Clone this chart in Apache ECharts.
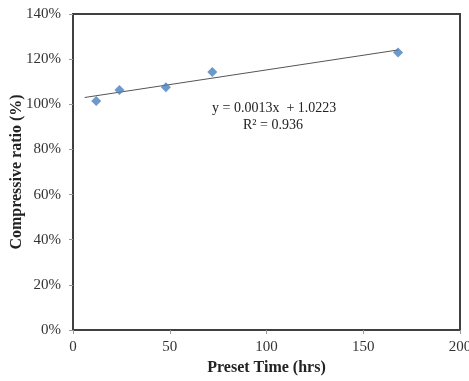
<!DOCTYPE html>
<html><head><meta charset="utf-8">
<script src="https://cdn.jsdelivr.net/npm/echarts@6/dist/echarts.min.js"></script>
<style>html,body{margin:0;padding:0;background:#fff}#c{width:469px;height:381px}</style>
</head><body><div id="c"></div>
<script>
const presetTime = [12, 24, 48, 72, 168];
const compressiveRatio = [1.015, 1.063, 1.075, 1.143, 1.229];
const trendSlope = 0.0013;
const trendIntercept = 1.0223;
const trendRange = [6, 168];
const rSquared = 0.936;
const xTicks = [0, 50, 100, 150, 200];
const yTicks = [0, 0.2, 0.4, 0.6, 0.8, 1.0, 1.2, 1.4];

const trendData = trendRange.map(x => [x, trendSlope * x + trendIntercept]);
const font = 'Liberation Serif';
const chart = echarts.init(document.getElementById('c'));
chart.setOption({
  animation: false,
  grid: {left: 73, right: 9, top: 14, bottom: 51, show: true, borderColor: '#404040', borderWidth: 2,
         containLabel: false, outerBoundsMode: 'none'},
  xAxis: {
    type: 'value', min: xTicks[0], max: xTicks[xTicks.length-1], interval: 50,
    name: 'Preset Time (hrs)', nameLocation: 'middle', nameGap: 30, nameMoveOverlap: false,
    nameTextStyle: {fontFamily: font, fontWeight: 'bold', fontSize: 16, color: '#222'},
    axisLine: {show: true, lineStyle: {color: '#404040', width: 2}},
    axisTick: {show: true, length: 4, lineStyle: {color: '#999'}},
    axisLabel: {fontFamily: font, fontSize: 15, color: '#333', margin: 10},
    splitLine: {show: false}
  },
  yAxis: {
    type: 'value', min: yTicks[0], max: yTicks[yTicks.length-1], interval: 0.2,
    name: 'Compressive ratio (%)', nameLocation: 'middle', nameGap: 48, nameMoveOverlap: false,
    nameTextStyle: {fontFamily: font, fontWeight: 'bold', fontSize: 16, color: '#222'},
    axisLine: {show: true, lineStyle: {color: '#404040', width: 2}},
    axisTick: {show: true, length: 4, lineStyle: {color: '#999'}},
    axisLabel: {fontFamily: font, fontSize: 15, color: '#333', margin: 12,
      formatter: v => Math.round(v * 100) + '%'},
    splitLine: {show: false}
  },
  series: [
    {type: 'line', data: trendData, symbol: 'none', lineStyle: {color: '#555', width: 1}, z: 1},
    {type: 'scatter', data: presetTime.map((x, i) => [x, compressiveRatio[i]]),
     symbol: 'diamond', symbolSize: 10, itemStyle: {color: '#4a7ebb'}, z: 3}
  ],
  graphic: [
    {type: 'text', left: 212, top: 101, style: {text: 'y = ' + trendSlope + 'x  + ' + trendIntercept, font: '14px "Liberation Serif"', fill: '#222'}},
    {type: 'text', left: 243, top: 118, style: {text: 'R² = ' + rSquared, font: '14px "Liberation Serif"', fill: '#222'}}
  ]
});
</script></body></html>
